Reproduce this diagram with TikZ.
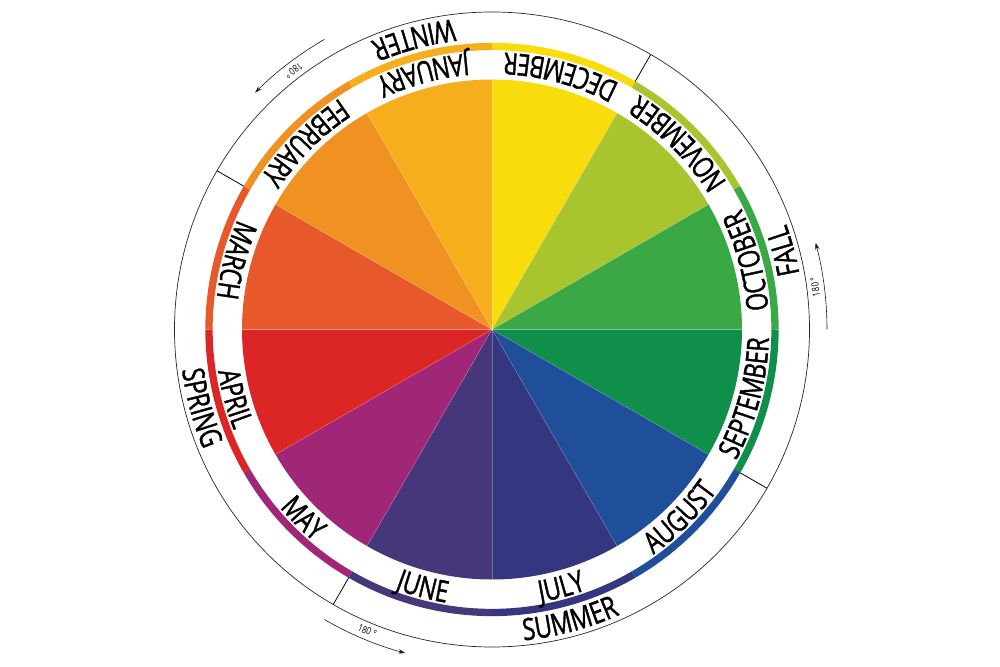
\documentclass[tikz,border=0pt]{standalone}
\usepackage{fontspec}
\setmainfont{Open Sans}
\newfontfamily\condfont[FakeStretch=0.77,FakeBold=1.2]{Open Sans}
\newfontfamily\smallcond[FakeStretch=0.8]{Open Sans}
\usetikzlibrary{decorations.text,arrows.meta}
\definecolor{cDec}{HTML}{F9DC0C}
\definecolor{cNov}{HTML}{A8C52F}
\definecolor{cOct}{HTML}{3AA845}
\definecolor{cSep}{HTML}{0F8F4A}
\definecolor{cAug}{HTML}{1F4F9B}
\definecolor{cJul}{HTML}{343680}
\definecolor{cJun}{HTML}{46367A}
\definecolor{cMay}{HTML}{A02778}
\definecolor{cApr}{HTML}{DC2525}
\definecolor{cMar}{HTML}{E7582B}
\definecolor{cFeb}{HTML}{EF9222}
\definecolor{cJan}{HTML}{F6AE1D}
\newcommand\mfont{\condfont\fontsize{30pt}{31pt}\selectfont}
\newcommand\sznfont{\condfont\fontsize{30.5pt}{31pt}\selectfont}
\newcommand\dgfont{\smallcond\fontsize{10pt}{11pt}\selectfont}
\newcommand\arclabel[4]{%
  \path[decorate, decoration={text along path, text={|#3|#4}, text align=center}]
    ({#1-17}:#2) arc[start angle={#1-17}, end angle={#1+17}, radius=#2];}
\tikzset{
  ring/.style={line width=7.3pt},
  divider/.style={line width=0.8pt, black},
  rotarrow/.style={line width=0.6pt, black!90, -{Stealth[length=7pt,width=4.5pt]}},
  deg/.style={font=\dgfont, inner sep=0pt}
}
\begin{document}
\begin{tikzpicture}
\useasboundingbox (-492pt,-336.5pt) rectangle (508pt,329.5pt);
% pie sectors and ring
\foreach \s/\c in {60/cDec,30/cNov,0/cOct,-30/cSep,-60/cAug,-90/cJul,-120/cJun,-150/cMay,180/cApr,150/cMar,120/cFeb,90/cJan} {
  \fill[\c] (0,0) -- (\s:250pt) arc[start angle=\s, end angle=\s+30, radius=250pt] -- cycle;
  \draw[\c, ring] (\s:283pt) arc[start angle=\s, end angle=\s+30, radius=283pt];
}
\foreach \a in {0,30,...,330} \draw[white, opacity=0.3, line width=0.4pt] (0,0) -- (\a:250pt);
% outer circle and season dividers
\draw[line width=0.7pt, black!85] (0,0) circle[radius=317.5pt];
\foreach \a in {60,-30,-120,150} \draw[divider] (\a:286.5pt) -- (\a:317.5pt);
% month labels
\arclabel{75}{277pt}{\mfont}{DECEMBER}
\arclabel{45}{277pt}{\mfont}{NOVEMBER}
\arclabel{15}{277pt}{\mfont}{OCTOBER}
\arclabel{-15}{277pt}{\mfont}{SEPTEMBER}
\arclabel{-45}{277pt}{\mfont}{AUGUST}
\arclabel{-75}{277pt}{\mfont}{JULY}
\arclabel{-105}{277pt}{\mfont}{JUNE}
\arclabel{-135}{277pt}{\mfont}{MAY}
\arclabel{-165}{277pt}{\mfont}{APRIL}
\arclabel{165}{277pt}{\mfont}{MARCH}
\arclabel{135}{277pt}{\mfont}{FEBRUARY}
\arclabel{105}{277pt}{\mfont}{JANUARY}
% season labels
\arclabel{105}{312.5pt}{\sznfont}{WINTER}
\arclabel{15}{312.5pt}{\sznfont}{FALL}
\arclabel{-75}{312.5pt}{\sznfont}{SUMMER}
\arclabel{-165}{312.5pt}{\sznfont}{SPRING}
% rotation arrows
\draw[rotarrow] (120:335pt) arc[start angle=120, end angle=135, radius=335pt];
\node[deg, rotate=217.5] (d1) at (127.5:326pt) {180 °};
\draw[rotarrow] (0:335pt) arc[start angle=0, end angle=15, radius=335pt];
\node[deg, rotate=97.5] (d2) at (7.5:326pt) {180 °};
\draw[rotarrow] (-120:335pt) arc[start angle=-120, end angle=-105, radius=335pt];
\node[deg, rotate=-22.5] (d3) at (-112.5:326pt) {180 °};
\end{tikzpicture}
\end{document}
